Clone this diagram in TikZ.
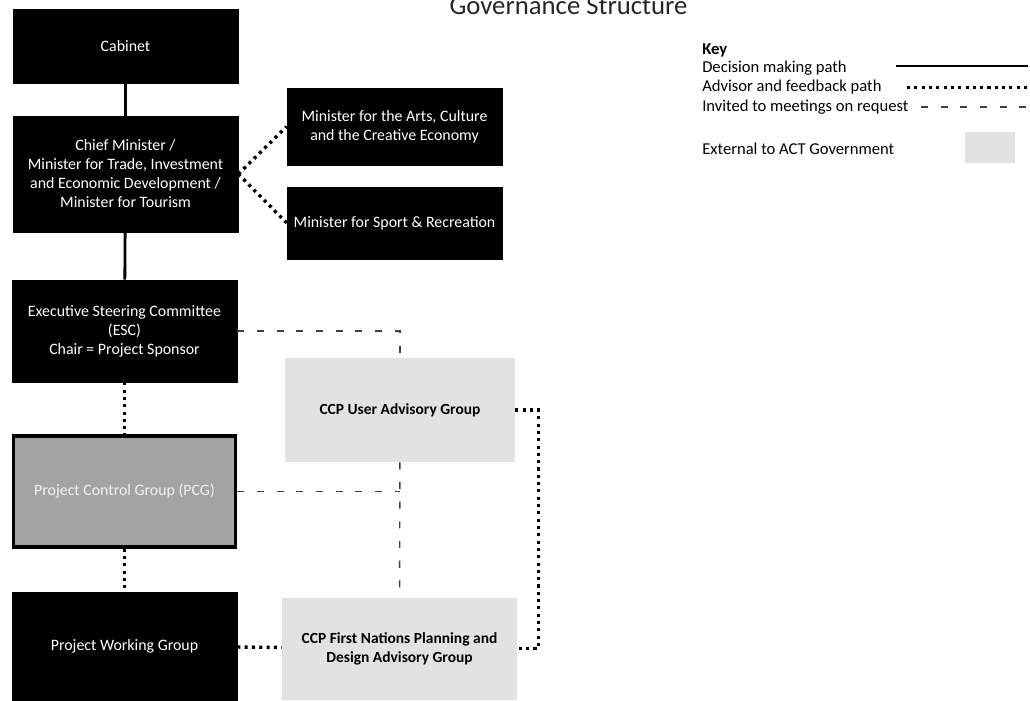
\documentclass[tikz,border=0pt]{standalone}
\usepackage{fontspec}
\setmainfont{Carlito}
\usetikzlibrary{positioning,calc}
\definecolor{control}{HTML}{A3A3A3}
\definecolor{external}{HTML}{E2E2E2}

\begin{document}
\begin{tikzpicture}[x=0.025cm,y=-0.025cm,
    every node/.style={font=\fontsize{11.3}{13.5}\selectfont},
    govbox/.style={draw=black,fill=black,text=white,align=center,inner sep=0pt,minimum width=5.625cm},
    ctrlbox/.style={draw=black,line width=2.4pt,fill=control,text=white!90!gray,align=center,inner sep=0pt,minimum width=5.55cm},
    extbox/.style={fill=external,align=center,inner sep=0pt,font=\fontsize{11}{13.5}\selectfont\bfseries},
    keytext/.style={anchor=west,inner sep=0pt,font=\fontsize{11.8}{14}\selectfont},
    decision/.style={line width=2pt,black},
    advisor/.style={line width=2.4pt,dash pattern=on 2.2pt off 3pt,black},
    invited/.style={line width=1pt,dash pattern=on 5pt off 9pt,black!75}
]
\useasboundingbox (0,0) rectangle (1030,700);

\node[anchor=base,font=\fontsize{19}{22}\selectfont,text=black!85] (title) at (568.5,14) {Governance Structure};

\node[govbox,minimum height=1.85cm] (cabinet) at (125.5,46) {Cabinet};
\node[govbox,minimum height=2.9cm] (chief) at (125.5,174) {Chief Minister /\\Minister for Trade, Investment\\and Economic Development /\\Minister for Tourism};
\node[govbox,minimum width=5.375cm,minimum height=1.925cm] (arts) at (394.5,126.5) {Minister for the Arts, Culture\\and the Creative Economy};
\node[govbox,minimum width=5.375cm,minimum height=1.8cm] (sport) at (394.5,223) {Minister for Sport \& Recreation};
\node[govbox,minimum height=2.55cm] (esc) at (124.5,331) {Executive Steering Committee\\(ESC)\\Chair = Project Sponsor};
\node[ctrlbox,minimum height=2.77cm] (pcg) at (124.5,491.5) {Project Control Group (PCG)};
\node[govbox,minimum height=2.7cm] (pwg) at (124.5,646) {Project Working Group};
\node[extbox,minimum width=5.75cm,minimum height=2.6cm] (useradv) at (400,410) {CCP User Advisory Group};
\node[extbox,minimum width=5.875cm,minimum height=2.55cm] (firstnat) at (399.5,648.5) {CCP First Nations Planning and\\Design Advisory Group};

\draw[decision] (cabinet) -- (chief);
\draw[decision] (chief) -- (esc);
\draw[advisor] (chief.east) -- (arts.west);
\draw[advisor] (chief.east) -- (sport.west);
\draw[advisor] (esc) -- (pcg);
\draw[advisor] (pcg) -- (pwg);
\draw[advisor] (pwg) -- (firstnat);
\draw[advisor] (useradv.east) -- ++(23,0) |- (firstnat.east);
\draw[invited] (esc.east) -| (useradv.north);
\draw[invited] (useradv) -- (firstnat);
\draw[invited] (pcg.east) -- (pcg.east -| useradv.south);

\node[keytext,font=\fontsize{11.8}{14}\selectfont\bfseries] (key) at (702,50) {Key};
\node[keytext] (keydec) at (702,68) {Decision making path};
\node[keytext] (keyadv) at (702,87.5) {Advisor and feedback path};
\node[keytext] (keyinv) at (702,107) {Invited to meetings on request};
\node[keytext] (keyext) at (702,149) {External to ACT Government};
\node[fill=external,minimum width=1.25cm,minimum height=0.775cm,inner sep=0pt] (extswatch) at (990,147.5) {};

\coordinate (decA) at (896,66);
\coordinate (decB) at (1028,66);
\coordinate (advA) at (907,87.5);
\coordinate (advB) at (1028,87.5);
\coordinate (invA) at (921,107);
\coordinate (invB) at (1028,107);
\draw[decision] (decA) -- (decB);
\draw[advisor] (advA) -- (advB);
\draw[invited] (invA) -- (invB);
\end{tikzpicture}
\end{document}
